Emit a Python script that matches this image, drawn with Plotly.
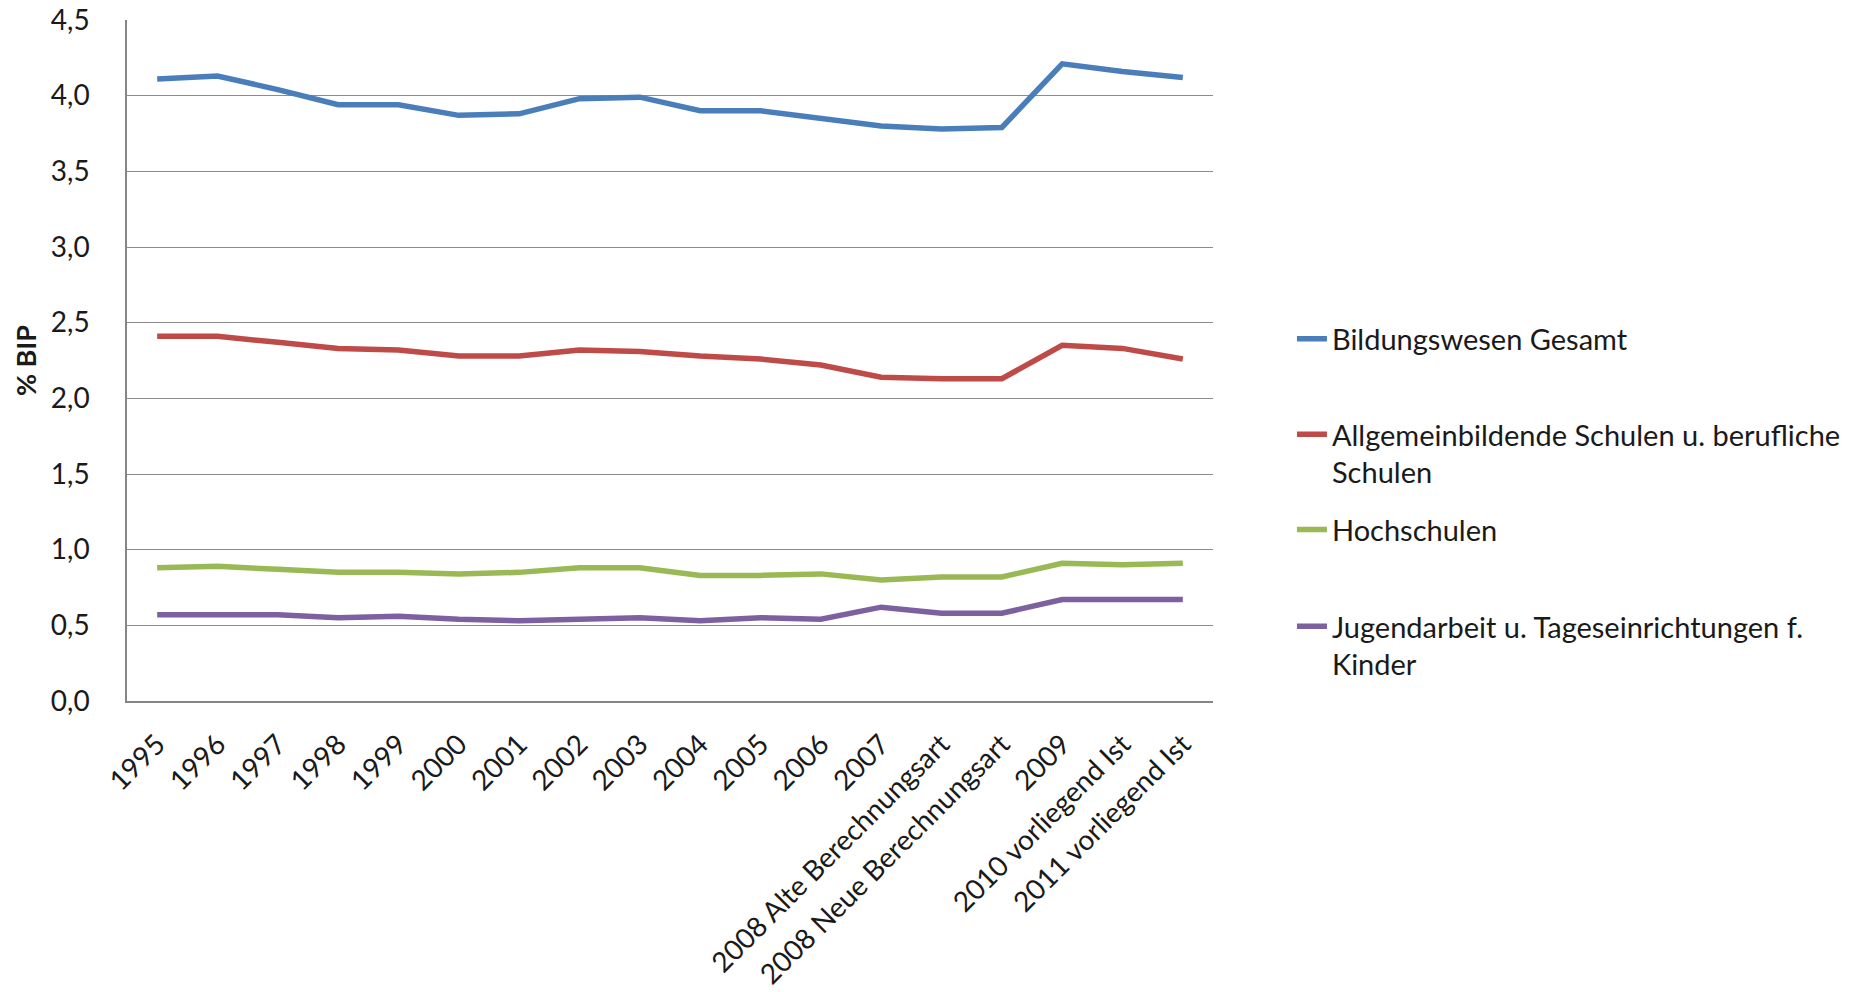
import plotly.graph_objects as go

categories = ["1995", "1996", "1997", "1998", "1999", "2000", "2001", "2002", "2003",
              "2004", "2005", "2006", "2007", "2008 Alte Berechnungsart",
              "2008 Neue Berechnungsart", "2009", "2010 vorliegend Ist", "2011 vorliegend Ist"]

gesamt = [4.11, 4.13, 4.04, 3.94, 3.94, 3.87, 3.88, 3.98, 3.99,
          3.90, 3.90, 3.85, 3.80, 3.78, 3.79, 4.21, 4.16, 4.12]
schulen = [2.41, 2.41, 2.37, 2.33, 2.32, 2.28, 2.28, 2.32, 2.31,
           2.28, 2.26, 2.22, 2.14, 2.13, 2.13, 2.35, 2.33, 2.26]
hochschulen = [0.88, 0.89, 0.87, 0.85, 0.85, 0.84, 0.85, 0.88, 0.88,
               0.83, 0.83, 0.84, 0.80, 0.82, 0.82, 0.91, 0.90, 0.91]
jugend = [0.57, 0.57, 0.57, 0.55, 0.56, 0.54, 0.53, 0.54, 0.55,
          0.53, 0.55, 0.54, 0.62, 0.58, 0.58, 0.67, 0.67, 0.67]

series_names = ["Bildungswesen Gesamt",
                "Allgemeinbildende Schulen u. berufliche<br>Schulen",
                "Hochschulen",
                "Jugendarbeit u. Tageseinrichtungen f.<br>Kinder"]
series_values = [gesamt, schulen, hochschulen, jugend]
colors = ["#4A7EBB", "#BE4B48", "#98B954", "#7D60A0"]
legend_ids = ["legend", "legend2", "legend3", "legend4"]
legend_y = [0.569, 0.429, 0.289, 0.147]

FONT = "Lato"
W, H = 1869, 992
ML, MR, MT, MB = 127, 656, 20, 291

fig = go.Figure()
for name, vals, col, lid in zip(series_names, series_values, colors, legend_ids):
    fig.add_trace(go.Scatter(
        x=categories, y=vals, name=name, mode="lines",
        line=dict(color=col, width=5.5), legend=lid,
    ))

legend_common = dict(
    font=dict(family=FONT, size=29, color="#1a1a1a"),
    bgcolor="rgba(0,0,0,0)", xanchor="left", yanchor="top",
    itemclick=False, itemdoubleclick=False, valign="top",
)
layout_legends = {}
for lid, ly in zip(legend_ids, legend_y):
    d = dict(legend_common)
    d.update(x=1.0727, y=ly, xref="paper", yref="paper")
    layout_legends[lid] = d

fig.update_layout(
    width=W, height=H,
    margin=dict(l=ML, r=MR, t=MT, b=MB, autoexpand=False),
    paper_bgcolor="white", plot_bgcolor="white",
    separators=",.",
    font=dict(family=FONT, size=27, color="#1a1a1a"),
    showlegend=True,
    xaxis=dict(
        type="category", range=[-0.5, len(categories) - 0.5],
        tickangle=-45, showgrid=False, showline=True, linecolor="#868686",
        linewidth=1.5, ticks="", ticklabelstandoff=14,
        tickfont=dict(family=FONT, size=28, color="#1a1a1a"),
        mirror=False, zeroline=False,
    ),
    yaxis=dict(
        range=[0, 4.5], dtick=0.5, tick0=0, tickformat=".1f",
        showgrid=True, gridcolor="#8c8c8c", gridwidth=1.2,
        showline=True, linecolor="#868686", linewidth=1.5,
        ticks="", ticklabelstandoff=30, zeroline=False,
        tickfont=dict(family=FONT, size=28, color="#1a1a1a"),
        title=dict(text="<b>% BIP</b>", font=dict(family=FONT, size=27, color="#1a1a1a"),
                   standoff=6),
    ),
    **layout_legends,
)

fig.write_html("out.html")
